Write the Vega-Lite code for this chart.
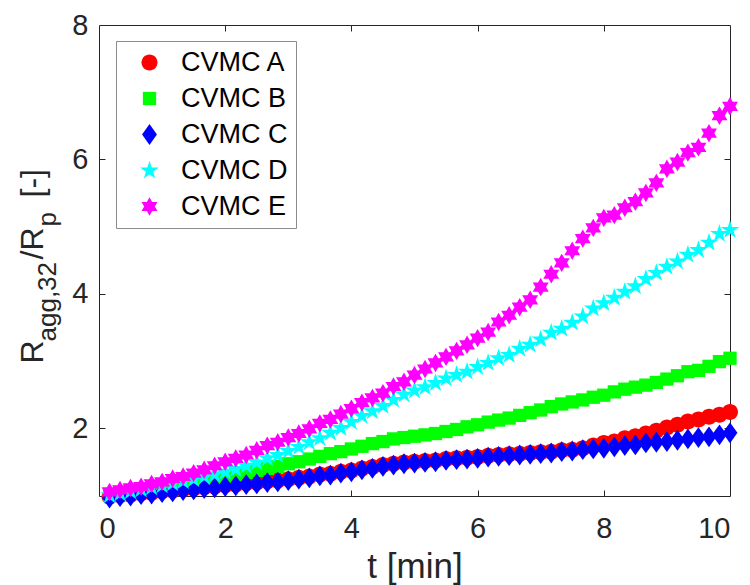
{
"$schema":"https://vega.github.io/schema/vega-lite/v6.json",
"width":631,"height":471,
"autosize":{"type":"none"},
"padding":{"left":99,"top":25,"right":20,"bottom":89},
"config":{"view":{"stroke":"#262626","strokeWidth":1},"font":"Liberation Sans",
"axis":{"labelFont":"Liberation Sans","titleFont":"Liberation Sans","labelColor":"#262626","titleColor":"#262626","tickColor":"#262626","grid":false,"titleFontWeight":"normal"}},
"datasets":{"pts":[
{"s":"CVMC A","t":0.167,"v":0.98},{"s":"CVMC A","t":0.333,"v":1.00},{"s":"CVMC A","t":0.5,"v":1.01},{"s":"CVMC A","t":0.667,"v":1.03},{"s":"CVMC A","t":0.833,"v":1.04},{"s":"CVMC A","t":1,"v":1.06},{"s":"CVMC A","t":1.167,"v":1.07},{"s":"CVMC A","t":1.333,"v":1.09},{"s":"CVMC A","t":1.5,"v":1.10},{"s":"CVMC A","t":1.667,"v":1.12},{"s":"CVMC A","t":1.833,"v":1.13},{"s":"CVMC A","t":2,"v":1.15},{"s":"CVMC A","t":2.167,"v":1.16},{"s":"CVMC A","t":2.333,"v":1.18},{"s":"CVMC A","t":2.5,"v":1.19},{"s":"CVMC A","t":2.667,"v":1.21},{"s":"CVMC A","t":2.833,"v":1.22},{"s":"CVMC A","t":3,"v":1.24},{"s":"CVMC A","t":3.167,"v":1.26},{"s":"CVMC A","t":3.333,"v":1.28},{"s":"CVMC A","t":3.5,"v":1.31},{"s":"CVMC A","t":3.667,"v":1.32},{"s":"CVMC A","t":3.833,"v":1.35},{"s":"CVMC A","t":4,"v":1.37},{"s":"CVMC A","t":4.167,"v":1.40},{"s":"CVMC A","t":4.333,"v":1.42},{"s":"CVMC A","t":4.5,"v":1.45},{"s":"CVMC A","t":4.667,"v":1.47},{"s":"CVMC A","t":4.833,"v":1.49},{"s":"CVMC A","t":5,"v":1.50},{"s":"CVMC A","t":5.167,"v":1.51},{"s":"CVMC A","t":5.333,"v":1.52},{"s":"CVMC A","t":5.5,"v":1.54},{"s":"CVMC A","t":5.667,"v":1.55},{"s":"CVMC A","t":5.833,"v":1.56},{"s":"CVMC A","t":6,"v":1.57},{"s":"CVMC A","t":6.167,"v":1.59},{"s":"CVMC A","t":6.333,"v":1.60},{"s":"CVMC A","t":6.5,"v":1.61},{"s":"CVMC A","t":6.667,"v":1.62},{"s":"CVMC A","t":6.833,"v":1.63},{"s":"CVMC A","t":7,"v":1.64},{"s":"CVMC A","t":7.167,"v":1.65},{"s":"CVMC A","t":7.333,"v":1.67},{"s":"CVMC A","t":7.5,"v":1.68},{"s":"CVMC A","t":7.667,"v":1.70},{"s":"CVMC A","t":7.833,"v":1.74},{"s":"CVMC A","t":8,"v":1.78},{"s":"CVMC A","t":8.167,"v":1.80},{"s":"CVMC A","t":8.333,"v":1.85},{"s":"CVMC A","t":8.5,"v":1.88},{"s":"CVMC A","t":8.667,"v":1.92},{"s":"CVMC A","t":8.833,"v":1.96},{"s":"CVMC A","t":9,"v":2.01},{"s":"CVMC A","t":9.167,"v":2.05},{"s":"CVMC A","t":9.333,"v":2.10},{"s":"CVMC A","t":9.5,"v":2.13},{"s":"CVMC A","t":9.667,"v":2.17},{"s":"CVMC A","t":9.833,"v":2.20},{"s":"CVMC A","t":10,"v":2.24},
{"s":"CVMC B","t":0.167,"v":1.00},{"s":"CVMC B","t":0.333,"v":1.02},{"s":"CVMC B","t":0.5,"v":1.04},{"s":"CVMC B","t":0.667,"v":1.07},{"s":"CVMC B","t":0.833,"v":1.09},{"s":"CVMC B","t":1,"v":1.11},{"s":"CVMC B","t":1.167,"v":1.14},{"s":"CVMC B","t":1.333,"v":1.16},{"s":"CVMC B","t":1.5,"v":1.19},{"s":"CVMC B","t":1.667,"v":1.22},{"s":"CVMC B","t":1.833,"v":1.25},{"s":"CVMC B","t":2,"v":1.28},{"s":"CVMC B","t":2.167,"v":1.31},{"s":"CVMC B","t":2.333,"v":1.34},{"s":"CVMC B","t":2.5,"v":1.37},{"s":"CVMC B","t":2.667,"v":1.40},{"s":"CVMC B","t":2.833,"v":1.43},{"s":"CVMC B","t":3,"v":1.47},{"s":"CVMC B","t":3.167,"v":1.50},{"s":"CVMC B","t":3.333,"v":1.54},{"s":"CVMC B","t":3.5,"v":1.58},{"s":"CVMC B","t":3.667,"v":1.62},{"s":"CVMC B","t":3.833,"v":1.65},{"s":"CVMC B","t":4,"v":1.69},{"s":"CVMC B","t":4.167,"v":1.73},{"s":"CVMC B","t":4.333,"v":1.77},{"s":"CVMC B","t":4.5,"v":1.80},{"s":"CVMC B","t":4.667,"v":1.84},{"s":"CVMC B","t":4.833,"v":1.86},{"s":"CVMC B","t":5,"v":1.88},{"s":"CVMC B","t":5.167,"v":1.90},{"s":"CVMC B","t":5.333,"v":1.92},{"s":"CVMC B","t":5.5,"v":1.95},{"s":"CVMC B","t":5.667,"v":1.98},{"s":"CVMC B","t":5.833,"v":2.02},{"s":"CVMC B","t":6,"v":2.05},{"s":"CVMC B","t":6.167,"v":2.09},{"s":"CVMC B","t":6.333,"v":2.12},{"s":"CVMC B","t":6.5,"v":2.15},{"s":"CVMC B","t":6.667,"v":2.19},{"s":"CVMC B","t":6.833,"v":2.23},{"s":"CVMC B","t":7,"v":2.27},{"s":"CVMC B","t":7.167,"v":2.32},{"s":"CVMC B","t":7.333,"v":2.36},{"s":"CVMC B","t":7.5,"v":2.39},{"s":"CVMC B","t":7.667,"v":2.42},{"s":"CVMC B","t":7.833,"v":2.46},{"s":"CVMC B","t":8,"v":2.49},{"s":"CVMC B","t":8.167,"v":2.54},{"s":"CVMC B","t":8.333,"v":2.58},{"s":"CVMC B","t":8.5,"v":2.61},{"s":"CVMC B","t":8.667,"v":2.64},{"s":"CVMC B","t":8.833,"v":2.68},{"s":"CVMC B","t":9,"v":2.73},{"s":"CVMC B","t":9.167,"v":2.78},{"s":"CVMC B","t":9.333,"v":2.84},{"s":"CVMC B","t":9.5,"v":2.86},{"s":"CVMC B","t":9.667,"v":2.92},{"s":"CVMC B","t":9.833,"v":2.99},{"s":"CVMC B","t":10,"v":3.04},
{"s":"CVMC C","t":0.167,"v":0.96},{"s":"CVMC C","t":0.333,"v":0.98},{"s":"CVMC C","t":0.5,"v":0.99},{"s":"CVMC C","t":0.667,"v":1.01},{"s":"CVMC C","t":0.833,"v":1.02},{"s":"CVMC C","t":1,"v":1.04},{"s":"CVMC C","t":1.167,"v":1.05},{"s":"CVMC C","t":1.333,"v":1.07},{"s":"CVMC C","t":1.5,"v":1.08},{"s":"CVMC C","t":1.667,"v":1.10},{"s":"CVMC C","t":1.833,"v":1.11},{"s":"CVMC C","t":2,"v":1.13},{"s":"CVMC C","t":2.167,"v":1.14},{"s":"CVMC C","t":2.333,"v":1.16},{"s":"CVMC C","t":2.5,"v":1.17},{"s":"CVMC C","t":2.667,"v":1.19},{"s":"CVMC C","t":2.833,"v":1.20},{"s":"CVMC C","t":3,"v":1.22},{"s":"CVMC C","t":3.167,"v":1.24},{"s":"CVMC C","t":3.333,"v":1.26},{"s":"CVMC C","t":3.5,"v":1.29},{"s":"CVMC C","t":3.667,"v":1.30},{"s":"CVMC C","t":3.833,"v":1.33},{"s":"CVMC C","t":4,"v":1.35},{"s":"CVMC C","t":4.167,"v":1.38},{"s":"CVMC C","t":4.333,"v":1.40},{"s":"CVMC C","t":4.5,"v":1.43},{"s":"CVMC C","t":4.667,"v":1.45},{"s":"CVMC C","t":4.833,"v":1.47},{"s":"CVMC C","t":5,"v":1.48},{"s":"CVMC C","t":5.167,"v":1.49},{"s":"CVMC C","t":5.333,"v":1.50},{"s":"CVMC C","t":5.5,"v":1.52},{"s":"CVMC C","t":5.667,"v":1.53},{"s":"CVMC C","t":5.833,"v":1.54},{"s":"CVMC C","t":6,"v":1.55},{"s":"CVMC C","t":6.167,"v":1.57},{"s":"CVMC C","t":6.333,"v":1.58},{"s":"CVMC C","t":6.5,"v":1.59},{"s":"CVMC C","t":6.667,"v":1.60},{"s":"CVMC C","t":6.833,"v":1.61},{"s":"CVMC C","t":7,"v":1.62},{"s":"CVMC C","t":7.167,"v":1.63},{"s":"CVMC C","t":7.333,"v":1.65},{"s":"CVMC C","t":7.5,"v":1.66},{"s":"CVMC C","t":7.667,"v":1.68},{"s":"CVMC C","t":7.833,"v":1.69},{"s":"CVMC C","t":8,"v":1.70},{"s":"CVMC C","t":8.167,"v":1.72},{"s":"CVMC C","t":8.333,"v":1.74},{"s":"CVMC C","t":8.5,"v":1.75},{"s":"CVMC C","t":8.667,"v":1.78},{"s":"CVMC C","t":8.833,"v":1.79},{"s":"CVMC C","t":9,"v":1.80},{"s":"CVMC C","t":9.167,"v":1.82},{"s":"CVMC C","t":9.333,"v":1.84},{"s":"CVMC C","t":9.5,"v":1.86},{"s":"CVMC C","t":9.667,"v":1.87},{"s":"CVMC C","t":9.833,"v":1.90},{"s":"CVMC C","t":10,"v":1.93},
{"s":"CVMC D","t":0.167,"v":1.00},{"s":"CVMC D","t":0.333,"v":1.03},{"s":"CVMC D","t":0.5,"v":1.06},{"s":"CVMC D","t":0.667,"v":1.09},{"s":"CVMC D","t":0.833,"v":1.12},{"s":"CVMC D","t":1,"v":1.15},{"s":"CVMC D","t":1.167,"v":1.18},{"s":"CVMC D","t":1.333,"v":1.21},{"s":"CVMC D","t":1.5,"v":1.24},{"s":"CVMC D","t":1.667,"v":1.28},{"s":"CVMC D","t":1.833,"v":1.31},{"s":"CVMC D","t":2,"v":1.35},{"s":"CVMC D","t":2.167,"v":1.39},{"s":"CVMC D","t":2.333,"v":1.44},{"s":"CVMC D","t":2.5,"v":1.49},{"s":"CVMC D","t":2.667,"v":1.55},{"s":"CVMC D","t":2.833,"v":1.60},{"s":"CVMC D","t":3,"v":1.66},{"s":"CVMC D","t":3.167,"v":1.72},{"s":"CVMC D","t":3.333,"v":1.79},{"s":"CVMC D","t":3.5,"v":1.85},{"s":"CVMC D","t":3.667,"v":1.93},{"s":"CVMC D","t":3.833,"v":2.00},{"s":"CVMC D","t":4,"v":2.09},{"s":"CVMC D","t":4.167,"v":2.18},{"s":"CVMC D","t":4.333,"v":2.25},{"s":"CVMC D","t":4.5,"v":2.33},{"s":"CVMC D","t":4.667,"v":2.42},{"s":"CVMC D","t":4.833,"v":2.50},{"s":"CVMC D","t":5,"v":2.56},{"s":"CVMC D","t":5.167,"v":2.61},{"s":"CVMC D","t":5.333,"v":2.67},{"s":"CVMC D","t":5.5,"v":2.74},{"s":"CVMC D","t":5.667,"v":2.79},{"s":"CVMC D","t":5.833,"v":2.84},{"s":"CVMC D","t":6,"v":2.91},{"s":"CVMC D","t":6.167,"v":2.97},{"s":"CVMC D","t":6.333,"v":3.04},{"s":"CVMC D","t":6.5,"v":3.09},{"s":"CVMC D","t":6.667,"v":3.18},{"s":"CVMC D","t":6.833,"v":3.24},{"s":"CVMC D","t":7,"v":3.32},{"s":"CVMC D","t":7.167,"v":3.42},{"s":"CVMC D","t":7.333,"v":3.48},{"s":"CVMC D","t":7.5,"v":3.57},{"s":"CVMC D","t":7.667,"v":3.66},{"s":"CVMC D","t":7.833,"v":3.78},{"s":"CVMC D","t":8,"v":3.86},{"s":"CVMC D","t":8.167,"v":3.94},{"s":"CVMC D","t":8.333,"v":4.03},{"s":"CVMC D","t":8.5,"v":4.11},{"s":"CVMC D","t":8.667,"v":4.22},{"s":"CVMC D","t":8.833,"v":4.31},{"s":"CVMC D","t":9,"v":4.40},{"s":"CVMC D","t":9.167,"v":4.48},{"s":"CVMC D","t":9.333,"v":4.58},{"s":"CVMC D","t":9.5,"v":4.65},{"s":"CVMC D","t":9.667,"v":4.76},{"s":"CVMC D","t":9.833,"v":4.89},{"s":"CVMC D","t":10,"v":4.95},
{"s":"CVMC E","t":0.167,"v":1.05},{"s":"CVMC E","t":0.333,"v":1.08},{"s":"CVMC E","t":0.5,"v":1.11},{"s":"CVMC E","t":0.667,"v":1.13},{"s":"CVMC E","t":0.833,"v":1.17},{"s":"CVMC E","t":1,"v":1.20},{"s":"CVMC E","t":1.167,"v":1.25},{"s":"CVMC E","t":1.333,"v":1.28},{"s":"CVMC E","t":1.5,"v":1.33},{"s":"CVMC E","t":1.667,"v":1.38},{"s":"CVMC E","t":1.833,"v":1.44},{"s":"CVMC E","t":2,"v":1.50},{"s":"CVMC E","t":2.167,"v":1.55},{"s":"CVMC E","t":2.333,"v":1.60},{"s":"CVMC E","t":2.5,"v":1.67},{"s":"CVMC E","t":2.667,"v":1.74},{"s":"CVMC E","t":2.833,"v":1.79},{"s":"CVMC E","t":3,"v":1.86},{"s":"CVMC E","t":3.167,"v":1.92},{"s":"CVMC E","t":3.333,"v":1.99},{"s":"CVMC E","t":3.5,"v":2.07},{"s":"CVMC E","t":3.667,"v":2.13},{"s":"CVMC E","t":3.833,"v":2.21},{"s":"CVMC E","t":4,"v":2.29},{"s":"CVMC E","t":4.167,"v":2.38},{"s":"CVMC E","t":4.333,"v":2.45},{"s":"CVMC E","t":4.5,"v":2.52},{"s":"CVMC E","t":4.667,"v":2.62},{"s":"CVMC E","t":4.833,"v":2.69},{"s":"CVMC E","t":5,"v":2.79},{"s":"CVMC E","t":5.167,"v":2.88},{"s":"CVMC E","t":5.333,"v":2.97},{"s":"CVMC E","t":5.5,"v":3.06},{"s":"CVMC E","t":5.667,"v":3.15},{"s":"CVMC E","t":5.833,"v":3.24},{"s":"CVMC E","t":6,"v":3.34},{"s":"CVMC E","t":6.167,"v":3.43},{"s":"CVMC E","t":6.333,"v":3.58},{"s":"CVMC E","t":6.5,"v":3.68},{"s":"CVMC E","t":6.667,"v":3.80},{"s":"CVMC E","t":6.833,"v":3.91},{"s":"CVMC E","t":7,"v":4.10},{"s":"CVMC E","t":7.167,"v":4.29},{"s":"CVMC E","t":7.333,"v":4.46},{"s":"CVMC E","t":7.5,"v":4.64},{"s":"CVMC E","t":7.667,"v":4.82},{"s":"CVMC E","t":7.833,"v":4.98},{"s":"CVMC E","t":8,"v":5.13},{"s":"CVMC E","t":8.167,"v":5.17},{"s":"CVMC E","t":8.333,"v":5.28},{"s":"CVMC E","t":8.5,"v":5.37},{"s":"CVMC E","t":8.667,"v":5.50},{"s":"CVMC E","t":8.833,"v":5.65},{"s":"CVMC E","t":9,"v":5.86},{"s":"CVMC E","t":9.167,"v":5.96},{"s":"CVMC E","t":9.333,"v":6.10},{"s":"CVMC E","t":9.5,"v":6.18},{"s":"CVMC E","t":9.667,"v":6.39},{"s":"CVMC E","t":9.833,"v":6.65},{"s":"CVMC E","t":10,"v":6.79}
]},
"data":{"name":"pts"},
"resolve":{"axis":{"x":"independent","y":"independent"}},
"layer":[
{"mark":{"type":"point","filled":true,"opacity":1,"size":256,"strokeWidth":0},
"encoding":{
"x":{"field":"t","type":"quantitative","scale":{"domain":[0,10],"nice":false,"zero":false},
"axis":{"orient":"bottom","values":[0,2,4,6,8,10],"ticks":false,"tickSize":0,"domain":false,"labelFontSize":29,"labelPadding":18,"title":"t [min]","titleFontSize":35,"titleBaseline":"alphabetic","titleY":81}},
"y":{"field":"v","type":"quantitative","scale":{"domain":[0.99,8],"nice":false,"zero":false},
"axis":{"orient":"left","values":[2,4,6,8],"ticks":false,"tickSize":0,"domain":false,"labelFontSize":29,"labelPadding":11,"title":"R","titleFontSize":32,"titleAngle":270,"titleAlign":"left","titleBaseline":"alphabetic","titleX":-57,"titleY":338}},
"color":{"field":"s","type":"nominal","scale":{"domain":["CVMC A","CVMC B","CVMC C","CVMC D","CVMC E"],"range":["#ff0000","#00ff00","#0000ff","#00ffff","#ff00ff"]},
"legend":{"orient":"none","legendX":17,"legendY":16,"title":null,"strokeColor":"#8c8c8c","fillColor":"#ffffff","padding":8,"symbolOffset":12,"labelOffset":18,"labelFontSize":27,"labelFont":"Liberation Sans","labelColor":"#000000","rowPadding":8,"symbolSize":256,"symbolStrokeWidth":0,"labelLimit":300}},
"shape":{"field":"s","type":"nominal","scale":{"domain":["CVMC A","CVMC B","CVMC C","CVMC D","CVMC E"],"range":["M-1,0A1,1,0,1,0,1,0A1,1,0,1,0,-1,0Z","M-0.83,-0.83L0.83,-0.83L0.83,0.83L-0.83,0.83Z","M0,-1.3L0.93,0L0,1.3L-0.93,0Z","M0,-1.22L0.274,-0.377L1.16,-0.377L0.444,0.145L0.717,0.987L0,0.466L-0.717,0.987L-0.444,0.145L-1.16,-0.377L-0.274,-0.377Z","M0,-1.15L0.332,-0.575L0.996,-0.575L0.664,0L0.996,0.575L0.332,0.575L0,1.15L-0.332,0.575L-0.996,0.575L-0.664,0L-0.996,-0.575L-0.332,-0.575Z"]},
"legend":{"orient":"none","legendX":17,"legendY":16,"title":null,"strokeColor":"#8c8c8c","fillColor":"#ffffff","padding":8,"symbolOffset":12,"labelOffset":18,"labelFontSize":27,"labelFont":"Liberation Sans","labelColor":"#000000","rowPadding":8,"symbolSize":256,"symbolStrokeWidth":0,"labelLimit":300}}
}},
{"mark":{"type":"point","opacity":0},
"encoding":{
"x":{"field":"t","type":"quantitative","axis":{"orient":"bottom","offset":-6,"values":[2,4,6,8],"labels":false,"domain":false,"tickSize":6,"title":null}},
"y":{"field":"v","type":"quantitative","axis":{"orient":"left","offset":-6,"values":[2,4,6],"labels":false,"domain":false,"tickSize":6,"title":null}}}},
{"mark":{"type":"point","opacity":0},
"encoding":{
"x":{"field":"t","type":"quantitative","axis":{"orient":"top","offset":-6,"values":[2,4,6,8],"labels":false,"domain":false,"tickSize":6,"title":null}},
"y":{"field":"v","type":"quantitative","axis":{"orient":"right","offset":-6,"values":[2,4,6],"labels":false,"domain":false,"tickSize":6,"title":null}}}},
{"mark":{"type":"point","opacity":0},
"encoding":{
"x":{"field":"t","type":"quantitative","axis":null},
"y":{"field":"v","type":"quantitative","axis":{"orient":"left","labels":false,"ticks":false,"domain":false,"title":"agg,32","titleFontSize":26,"titleAngle":270,"titleAlign":"left","titleBaseline":"alphabetic","titleX":-44,"titleY":316}}}},
{"mark":{"type":"point","opacity":0},
"encoding":{
"x":{"field":"t","type":"quantitative","axis":null},
"y":{"field":"v","type":"quantitative","axis":{"orient":"left","labels":false,"ticks":false,"domain":false,"title":"/R","titleFontSize":32,"titleAngle":270,"titleAlign":"left","titleBaseline":"alphabetic","titleX":-57,"titleY":234}}}},
{"mark":{"type":"point","opacity":0},
"encoding":{
"x":{"field":"t","type":"quantitative","axis":null},
"y":{"field":"v","type":"quantitative","axis":{"orient":"left","labels":false,"ticks":false,"domain":false,"title":"p","titleFontSize":26,"titleAngle":270,"titleAlign":"left","titleBaseline":"alphabetic","titleX":-44,"titleY":201}}}},
{"mark":{"type":"point","opacity":0},
"encoding":{
"x":{"field":"t","type":"quantitative","axis":null},
"y":{"field":"v","type":"quantitative","axis":{"orient":"left","labels":false,"ticks":false,"domain":false,"title":"[-]","titleFontSize":32,"titleAngle":270,"titleAlign":"left","titleBaseline":"alphabetic","titleX":-57,"titleY":172}}}}
]
}
